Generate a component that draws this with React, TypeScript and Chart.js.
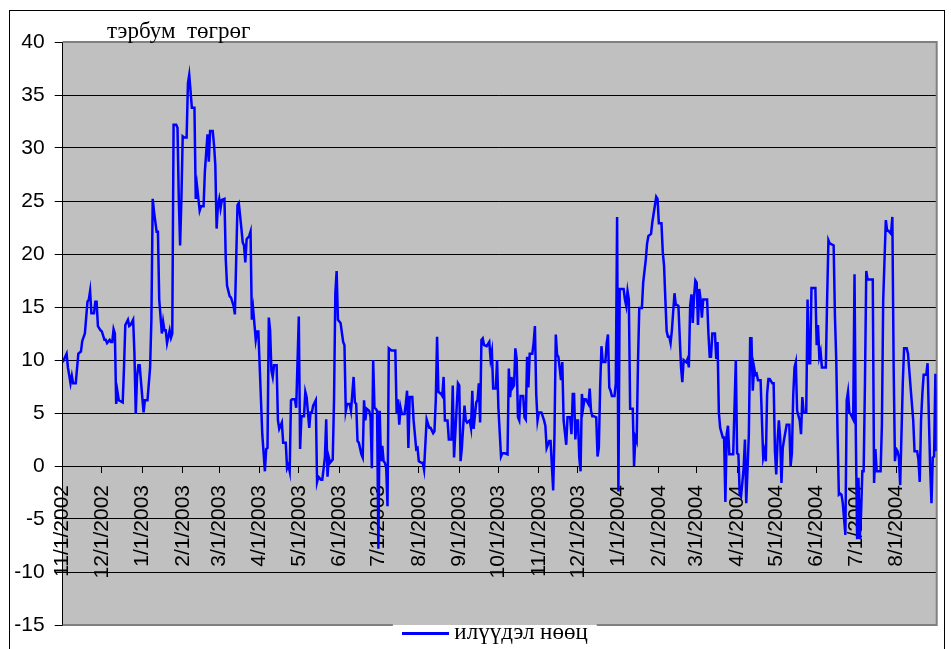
import React, { useEffect, useRef } from 'react';
import { Chart, registerables } from 'chart.js';

Chart.register(...registerables);

// ---- data ----
const seriesLabel = 'илүүдэл нөөц';
const unitLabel = 'тэрбум  төгрөг';
const baseDate = '11/1/2002';

// day offsets counted from 11/1/2002
const dayOffsets = [
  0, 3, 4, 6, 7, 8, 10, 12, 14, 15, 17, 19, 20, 21, 22, 24, 25, 26, 27, 29, 30, 32, 33, 34, 36, 37, 38, 39, 40, 41,
  42, 43, 46, 47, 48, 50, 51, 52, 54, 55, 56, 57, 58, 59, 61, 62, 63, 65, 67, 68, 69, 70, 72, 73, 74, 76, 77, 78,
  79, 80, 82, 83, 84, 85, 87, 88, 89, 90, 91, 92, 93, 95, 96, 97, 98, 99, 101, 102, 103, 105, 106, 108, 109, 111,
  112, 113, 115, 116, 117, 118, 119, 120, 121, 122, 124, 125, 126, 128, 129, 131, 132, 133, 134, 135, 137, 138,
  139, 140, 141, 143, 144, 145, 146, 148, 149, 150, 152, 153, 155, 156,
  157, 158, 159, 160, 161, 162, 164, 165, 166, 168, 169, 171, 172, 173, 174, 175, 176, 178, 179, 181, 182, 183,
  185, 186, 187, 189, 190, 191, 192, 194, 195, 196, 198, 199, 201, 202, 203, 204, 205, 207, 208, 209, 210, 211,
  213, 215, 216, 217, 218, 220, 221, 223, 224, 225, 226, 227, 229, 230, 231, 232, 233, 235, 236, 237, 238,
  239, 240, 241, 242, 243, 244, 245, 246, 247, 248, 249, 250, 252, 255, 256, 257, 258, 259, 260, 262, 263, 264,
  265, 266, 268, 269, 271, 272, 273, 275, 276, 277, 279, 281, 282, 284, 285, 286, 287, 288, 290, 291, 292, 293,
  295, 296, 298, 299, 300, 302, 303, 304, 305, 306, 308, 309, 310, 312, 313, 314, 315, 317, 318, 319,
  320, 321, 322, 323, 325, 327, 328, 329, 330, 332, 333, 334, 336, 337, 339, 341, 342, 343, 344, 345, 346, 347,
  348, 349, 350, 351, 353, 354, 355, 356, 357, 358, 360, 361, 362, 363, 364, 365, 367, 369, 370, 371, 373, 374,
  376, 377, 378, 379, 380, 382, 383, 384, 386, 387, 389, 390, 391, 392, 393, 394, 395, 396, 397, 398,
  399, 400, 401, 403, 404, 405, 406, 407, 409, 410, 411, 412, 413, 414, 416, 417, 418, 419, 420, 421, 423, 424,
  425, 426, 427, 430, 431, 432, 433, 434, 435, 437, 438, 439, 440, 441, 442, 444, 445, 447, 448, 449, 451, 452,
  454, 455, 456, 457, 459, 460, 461, 462, 463, 464, 465, 466, 467, 469, 470, 471, 472, 474, 475, 476, 478, 479, 480,
  481, 482, 483, 484, 485, 486, 487, 488, 489, 490, 491, 494, 495, 496, 497, 498, 500, 501, 502, 503, 504, 506,
  507, 508, 509, 510, 511, 514, 516, 517, 518, 519, 520, 522, 523, 524, 526, 527, 528, 529, 530, 531, 532, 533,
  535, 537, 538, 539, 540, 541, 542, 544, 545, 546, 547, 548, 549, 550, 551, 552, 553, 555, 557, 558, 559, 560,
  561, 562,
  563, 565, 566, 567, 568, 570, 571, 572, 573, 574, 577, 578, 579, 580, 581, 582, 585, 586, 587, 588, 591, 592,
  593, 594, 595, 596, 597, 598, 600, 601, 602, 603, 604, 606, 607, 608, 609, 610, 611, 612, 613, 614, 615, 616,
  617, 621, 622, 623, 624, 627, 628, 629, 631, 632, 633, 635, 636, 637, 638, 639, 640, 641, 642, 644, 645, 647,
  648, 650, 652, 653, 655, 656, 657, 658, 659, 660, 662, 663, 664, 665, 666, 667, 668, 669, 670
];

// excess reserves, billion togrog
const reserveValues = [
  9.8, 10.6, 9.3, 7.8, 8.5, 7.8, 7.8, 10.6, 10.8, 11.8, 12.5, 15.5, 15.7, 16.5, 14.4, 14.4, 15.5, 15.5, 13.2, 12.8,
  12.7, 11.9, 11.9, 11.6, 11.9, 11.7, 11.7, 12.9, 12.5, 5.85,
  7.0, 6.2, 6.0, 9.3, 13.3, 13.8, 13.2, 13.3, 13.8, 10.6, 4.9, 8.4, 9.5, 9.5, 6.5, 5.05, 6.2, 6.2, 9.3, 13.8, 25.2,
  24.0, 22.1, 22.1, 15.7, 12.5, 13.6, 12.8,
  12.8, 11.6, 12.8, 12.1, 12.5, 32.2, 32.2, 31.9, 25.2, 20.8, 25.2, 31.1, 31.0, 31.0, 36.1, 36.9, 35.4, 33.8, 33.8,
  25.2, 26.4, 24.1, 24.5, 24.5, 27.8, 31.3,
  28.7, 31.6, 31.6, 30.3, 28.4, 22.4, 24.6, 25.2, 24.3, 25.1, 25.2, 19.5, 17.0, 16.0, 15.9, 15.1, 14.3, 19.5, 24.6,
  24.8, 22.4, 21.1,
  20.8, 19.2, 21.4, 21.7, 22.1, 13.8, 14.8, 11.9, 12.7, 12.7, 6.2, 3.0, -0.5, 1.6,
  1.7, 14.0, 12.8, 9.0, 8.4, 9.5, 9.5, 4.3, 3.5, 4.1, 2.2, 2.2, -0.2, 0.1, -0.5, 6.2, 6.3, 6.3, 5.5, 14.1, 1.6, 4.7,
  4.7, 7.0, 6.5, 3.6, 5.05, 5.05, 5.7, 6.2, -1.5, -1.0, -1.3, -1.3, 0.8, 4.4, -1.0, 0.8, 0.3, 0.6, 6.2, 16.3, 18.4,
  13.8,
  13.5, 11.7, 11.4, 5.2, 5.85, 5.85, 5.2, 8.4, 6.0, 5.85, 2.35, 2.2, 1.1, 0.8, 6.2, 4.3, 5.4, 5.2, 4.6, -0.2, 10.0,
  5.5, 5.4, 5.2, -7.8, 5.2, 0.45, 1.9, 0.45, 0.3, -0.2, -3.8, 11.1, 10.9, 10.9, 4.9, 6.3, 3.9, 5.5, 4.9, 4.9, 5.85,
  7.1,
  1.7, 6.5, 6.5, 4.3, 1.6, 1.7, 0.45, 0.3, 0.3, -0.35, 4.4, 3.6, 3.6, 3.1, 3.3, 6.2, 12.2, 7.0, 6.8, 6.6, 8.4, 4.3,
  4.3, 2.5, 2.5, 7.6, 0.8, 5.5, 7.8, 7.6, 0.45, 1.7, 5.7, 4.3, 4.1, 4.3, 3.6, 7.1, 3.5, 6.0, 6.2, 7.8,
  4.1, 11.9, 12.05, 11.4, 11.3, 11.7, 10.1, 10.8, 7.3, 7.3, 10.0, 5.5, 0.9, 1.2, 1.2, 1.1, 9.2, 6.5, 8.4, 7.4, 7.6,
  11.1,
  10.1, 4.6, 4.3, 6.6, 6.6, 4.6, 4.4, 10.3, 7.4, 10.6, 10.6, 11.6, 13.2, 6.8, 4.3, 5.05, 5.05, 4.3, 3.8, 1.7, 2.35,
  2.35,
  -2.3, 3.0, 12.4, 10.5, 10.3, 8.1, 9.8, 4.3, 2.0, 4.6, 4.6, 3.0, 6.8, 6.8, 2.5, 4.3, 4.3, 0.8, -0.5, 6.8,
  5.5, 6.3, 6.3, 5.85, 7.3, 5.2, 4.7, 4.7, 4.6, 0.9, 1.7, 7.4, 11.3, 9.8, 9.8, 11.6, 12.4, 7.4, 7.1, 6.6, 6.6, 7.8,
  23.5, -2.4, 16.7, 16.7, 15.7, 15.1, 16.5, 15.7, 5.4, 5.4, 0.0, 2.7, 2.35, 9.7, 14.9, 14.9, 17.3, 19.5, 21.0, 21.7,
  21.9, 23.0,
  24.6, 25.4, 25.2, 22.9, 22.9, 20.2, 18.9, 15.7, 12.7, 12.2, 12.2, 11.6, 12.8, 16.3, 15.2, 15.2, 15.1, 9.3, 7.9,
  10.0, 9.8, 10.1, 9.3,
  15.1, 16.2, 13.5, 16.0, 17.5, 17.3, 13.3, 16.7, 15.7, 14.0, 15.7, 15.7, 12.5, 10.3, 10.3, 12.5, 12.5, 10.1, 11.7,
  5.05, 3.6, 2.7,
  2.7, -3.4, 3.0, 3.8, 1.1, 1.1, 10.0, 1.2, 1.1, -2.7, -2.9, -0.2, 2.5, -3.5, 3.0, 12.05, 12.05, 7.1, 9.3, 8.6, 8.7,
  8.1,
  8.1, 0.8, 1.4, 0.45, 6.8, 8.2, 8.2, 7.8, 7.8, 1.4, -0.8, 2.35, 4.3, 2.7, -1.6, 1.7, 2.5, 3.9, 3.9, 0.0, 1.2, 6.6,
  9.3, 9.8,
  5.2, 4.3, 3.0, 6.5, 5.05, 5.05, 15.7, 9.7, 9.7, 16.8, 16.8, 11.4, 13.3, 10.3, 10.8, 9.3, 9.3, 15.7, 21.3, 21.0,
  20.8, 14.1,
  10.0, 3.0, -2.7, -2.6, -2.7, -3.5, -6.5, 6.2, 7.0, 5.05, 4.9, 4.4, 18.1, 3.0, -6.9, -1.1, -6.9, -4.6, -0.5, -0.5,
  7.8, 18.4,
  17.6, 17.6, -1.6, 1.6, -0.5, -0.5, 3.9, 15.7, 23.2, 22.2, 22.2, 21.9, 23.5, 9.3, 0.45, 1.6, 1.4, 0.8, -1.8, 7.8,
  11.1, 11.1,
  10.6, 7.4, 4.3, 1.4, 1.4, 0.6, -1.5, 4.3, 6.8, 8.6, 8.6, 9.7, 4.6, -0.2, -3.5, 0.8, 0.9, 8.7, 1.4
];

const monthTickLabels = [
  '11/1/2002', '12/1/2002', '1/1/2003', '2/1/2003', '3/1/2003', '4/1/2003', '5/1/2003', '6/1/2003', '7/1/2003',
  '8/1/2003', '9/1/2003', '10/1/2003', '11/1/2003', '12/1/2003', '1/1/2004', '2/1/2004', '3/1/2004', '4/1/2004',
  '5/1/2004', '6/1/2004', '7/1/2004', '8/1/2004'
];

const yMin = -15;
const yMax = 40;
const yStep = 5;
const xMaxDay = 670;

// ---- styles ----
const AXIS_FONT = '"Liberation Sans", Arial, sans-serif';
const SERIF_FONT = '"Liberation Serif", "Times New Roman", serif';
const LINE_BLUE = '#0000FF';
const PLOT_GRAY = '#C0C0C0';
const FRAME_GRAY = '#808080';

function parseMDY(s: string): number {
  const [m, d, y] = s.split('/').map(Number);
  return Date.UTC(y, m - 1, d);
}

export default function App() {
  const ref = useRef<HTMLCanvasElement | null>(null);

  useEffect(() => {
    document.documentElement.style.overflow = 'hidden';
    document.body.style.overflow = 'hidden';
    const canvas = ref.current;
    if (!canvas) return;

    const base = parseMDY(baseDate);
    const tickDays = monthTickLabels.map((s) => Math.round((parseMDY(s) - base) / 86400000));

    const swatch = document.createElement('canvas');
    swatch.width = 47;
    swatch.height = 3;
    const sctx = swatch.getContext('2d');
    if (sctx) {
      sctx.fillStyle = LINE_BLUE;
      sctx.fillRect(0, 0, 47, 3);
    }

    const frame = {
      id: 'plotFrame',
      afterLayout(chart: any) {
        const lg = chart.legend;
        if (!lg) return;
        const dx = 487.8 - (lg.left + lg.right) / 2;
        lg.left += dx;
        lg.right += dx;
        const h = lg.bottom - lg.top;
        lg.top = 622 - 11.5;
        lg.bottom = lg.top + h;
      },
      beforeDraw(chart: any) {
        const { ctx, chartArea: a } = chart;
        ctx.save();
        ctx.fillStyle = '#FFFFFF';
        ctx.fillRect(0, 0, chart.width, chart.height);
        ctx.fillStyle = PLOT_GRAY;
        ctx.fillRect(a.left, a.top, a.right - a.left, a.bottom - a.top);
        ctx.restore();
      },
      beforeDatasetsDraw(chart: any) {
        const { ctx, chartArea: a } = chart;
        const hb = chart.legend && chart.legend.legendHitBoxes && chart.legend.legendHitBoxes[0];
        const gapL = hb ? hb.left - 15 : a.right;
        const gapR = hb ? hb.left + hb.width + 9 : a.right;
        ctx.save();
        ctx.strokeStyle = FRAME_GRAY;
        ctx.lineWidth = 2;
        ctx.beginPath();
        ctx.moveTo(a.left, a.top);
        ctx.lineTo(a.right, a.top);
        ctx.lineTo(a.right, a.bottom);
        ctx.lineTo(gapR, a.bottom);
        ctx.moveTo(gapL, a.bottom);
        ctx.lineTo(a.left, a.bottom);
        ctx.stroke();
        ctx.restore();
      },
      afterDraw(chart: any) {
        const { ctx } = chart;
        ctx.save();
        ctx.font = '23px ' + SERIF_FONT;
        ctx.fillStyle = '#000';
        ctx.textBaseline = 'alphabetic';
        ctx.textAlign = 'left';
        ctx.fillText(unitLabel, 97, 27);
        ctx.restore();
      }
    };

    const chart = new Chart(canvas, {
      type: 'line',
      data: {
        datasets: [
          {
            label: seriesLabel,
            data: dayOffsets.map((d, i) => ({ x: d, y: reserveValues[i] })),
            borderColor: LINE_BLUE,
            backgroundColor: LINE_BLUE,
            borderWidth: 2.5,
            pointRadius: 0,
            tension: 0,
            fill: false
          }
        ]
      },
      options: {
        responsive: false,
        animation: false,
        layout: { padding: { left: 0, top: 31, right: 7.3, bottom: 13 } },
        plugins: {
          tooltip: { enabled: false },
          legend: {
            position: 'bottom',
            labels: {
              usePointStyle: true,
              pointStyle: swatch as any,
              pointStyleWidth: 35,
              padding: 0,
              color: '#000',
              font: { family: SERIF_FONT, size: 23 }
            }
          }
        },
        scales: {
          x: {
            type: 'linear',
            min: 0,
            max: xMaxDay,
            position: { y: 0 } as any,
            afterBuildTicks: (scale: any) => {
              scale.ticks = tickDays.map((v) => ({ value: v }));
            },
            ticks: {
              autoSkip: false,
              minRotation: 90,
              maxRotation: 90,
              padding: 13,
              color: '#000',
              font: { family: AXIS_FONT, size: 21 },
              callback: (_v: any, i: number) => monthTickLabels[i]
            },
            grid: { drawOnChartArea: false, drawTicks: true, tickLength: 6, color: '#000', tickColor: '#000' },
            border: { display: true, color: '#000', width: 1 }
          },
          y: {
            min: yMin,
            max: yMax,
            afterFit: (scale: any) => {
              scale.width = 52.7;
            },
            ticks: {
              stepSize: yStep,
              padding: 10,
              color: '#000',
              font: { family: AXIS_FONT, size: 21 }
            },
            grid: {
              color: (c: any) =>
                c.tick && (c.tick.value === yMax || c.tick.value === yMin) ? 'rgba(0,0,0,0)' : '#000',
              tickColor: '#000',
              tickLength: 8,
              lineWidth: 1
            },
            border: { display: true, color: '#000', width: 1 }
          }
        }
      },
      plugins: [frame]
    });

    return () => {
      chart.destroy();
    };
  }, []);

  return (
    <div
      style={{
        position: 'absolute',
        left: 9,
        top: 10,
        width: 934,
        height: 660,
        border: '1px solid #000',
        background: '#fff'
      }}
    >
      <canvas ref={ref} width={934} height={660} style={{ display: 'block' }} />
    </div>
  );
}
